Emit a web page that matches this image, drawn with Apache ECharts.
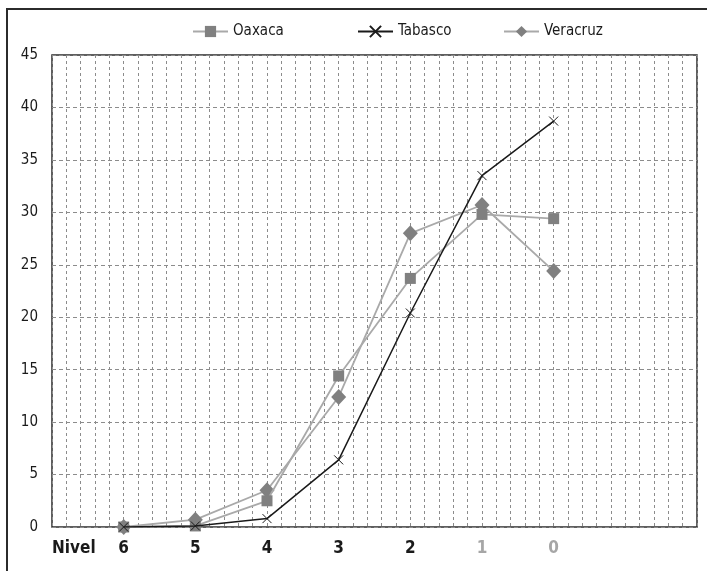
<!DOCTYPE html>
<html>
<head>
<meta charset="utf-8">
<script src="https://cdn.jsdelivr.net/npm/echarts@6/dist/echarts.min.js"></script>
<style>
  html, body { margin: 0; padding: 0; background: #fff; }
  #chart { width: 707px; height: 571px; }
</style>
</head>
<body>
<div id="chart"></div>
<script>
// Nivel categories, read left to right
var levels = ['6', '5', '4', '3', '2', '1', '0'];
// Levels drawn in a lighter label colour
var mutedLevels = ['1', '0'];

var oaxaca   = [0.0, 0.1, 2.5, 14.4, 23.7, 29.8, 29.4];
var tabasco  = [0.0, 0.1, 0.8, 6.4, 20.4, 33.5, 38.7];
var veracruz = [0.0, 0.7, 3.5, 12.4, 28.0, 30.7, 24.4];

var yTicks = { min: 0, max: 45, step: 5 };

// each level sits on every fifth minor column of the 45-column grid
var LEVEL_STEP = 5;
var COLUMNS = 45;

var FONT = "'Liberation Sans Narrow', 'DejaVu Sans Condensed', 'Roboto Condensed', sans-serif";

function pairs(values) {
  return values.map(function (v, i) { return [(i + 1) * LEVEL_STEP, v]; });
}

var labelByPos = {};
levels.forEach(function (l, i) { labelByPos[(i + 1) * LEVEL_STEP] = l; });

var crossPath = 'path://M0,0L10,10M10,0L0,10';

var chart = echarts.init(document.getElementById('chart'), null, { renderer: 'canvas' });

function legendAt(name, left) {
  return {
    data: [name],
    left: left,
    top: 24,
    padding: 0,
    itemWidth: 35,
    itemHeight: 14,
    itemGap: 0,
    textStyle: { fontFamily: FONT, fontSize: 15, color: '#1a1a1a', padding: [0, 0, 0, 0] }
  };
}

chart.setOption({
  animation: false,
  backgroundColor: '#ffffff',
  legend: [
    legendAt('Oaxaca', 192),
    legendAt('Tabasco', 357),
    legendAt('Veracruz', 503)
  ],
  grid: {
    left: 52, top: 55, right: 10, bottom: 44,
    show: true, borderColor: '#2b2b2b', borderWidth: 1.5, backgroundColor: 'transparent'
  },
  xAxis: {
    type: 'value',
    min: 0, max: COLUMNS, interval: 1,
    axisLine: { show: false },
    axisTick: { show: false },
    splitLine: { show: true, lineStyle: { color: '#8c8c8c', type: [3, 3], width: 1 } },
    axisLabel: {
      margin: 13,
      showMinLabel: true, showMaxLabel: true,
      formatter: function (v) {
        var l = labelByPos[v];
        if (l === undefined) return '';
        return mutedLevels.indexOf(l) >= 0 ? '{m|' + l + '}' : '{b|' + l + '}';
      },
      rich: {
        b: { fontFamily: FONT, fontSize: 17, fontWeight: 'bold', color: '#1a1a1a' },
        m: { fontFamily: FONT, fontSize: 17, fontWeight: 'bold', color: '#a6a6a6' }
      }
    }
  },
  yAxis: {
    type: 'value',
    min: yTicks.min, max: yTicks.max, interval: yTicks.step,
    axisLine: { show: false },
    axisTick: { show: false },
    splitLine: { show: true, lineStyle: { color: '#8c8c8c', type: [4, 3], width: 1 } },
    axisLabel: { fontFamily: FONT, fontSize: 15, color: '#1a1a1a', margin: 14 }
  },
  graphic: [
    {
      type: 'polyline',
      shape: { points: [[7, 571], [7, 9], [707, 9]] },
      style: { stroke: '#2b2b2b', lineWidth: 2, fill: null },
      silent: true
    },
    {
      type: 'text',
      left: 52, top: 540,
      style: { text: 'Nivel', fontFamily: FONT, fontSize: 17, fontWeight: 'bold', fill: '#1a1a1a' }
    }
  ],
  series: [
    {
      name: 'Veracruz', type: 'line', data: pairs(veracruz), z: 2,
      symbol: 'diamond', symbolSize: [15, 16],
      lineStyle: { color: '#a9a9a9', width: 1.8 },
      itemStyle: { color: '#808080' }
    },
    {
      name: 'Oaxaca', type: 'line', data: pairs(oaxaca), z: 3,
      symbol: 'rect', symbolSize: 11,
      lineStyle: { color: '#a9a9a9', width: 1.8 },
      itemStyle: { color: '#808080' }
    },
    {
      name: 'Tabasco', type: 'line', data: pairs(tabasco), z: 4,
      symbol: crossPath, symbolSize: 9,
      lineStyle: { color: '#1a1a1a', width: 1.5 },
      itemStyle: { color: '#1a1a1a', borderColor: '#1a1a1a', borderWidth: 1 }
    }
  ]
});
</script>
</body>
</html>
